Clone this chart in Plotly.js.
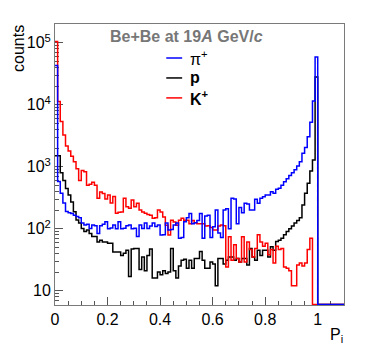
<!DOCTYPE html>
<html>
<head>
<meta charset="utf-8">
<script src="https://cdn.plot.ly/plotly-3.0.1.min.js"></script>
<style>
  html, body { margin: 0; padding: 0; background: #fff; }
  #chart { width: 374px; height: 364px; }
</style>
</head>
<body>
<div id="chart"></div>
<script>
// Be+Be at 19A GeV/c : P_i distributions, 110 bins of 0.01 from 0 to 1.1
const binWidth = 0.01;

const piCounts = [
  43000, 575, 373, 260, 190, 180, 175, 165, 158, 150,
  123, 115, 118, 101, 115, 112, 84, 112, 118, 129,
  100, 103, 115, 100, 129, 100, 102, 112, 115, 100,
  102, 75, 115, 101, 123, 101, 110, 123, 108, 115,
  79, 80, 123, 95, 97, 115, 123, 70, 72, 129,
  150, 175, 120, 125, 135, 175, 70, 160, 165, 72,
  107, 200, 85, 72, 200, 210, 100, 310, 300, 120,
  220, 180, 257, 250, 200, 200, 298, 257, 310, 329,
  350, 350, 395, 372, 431, 450, 500, 570, 640, 720,
  800, 890, 1030, 1200, 1650, 2050, 3050, 5200, 11500, 59000,
  0, 0, 0, 0, 0, 0, 0, 0, 0, 0
];

const pCounts = [
  1500, 1500, 800, 600, 447, 350, 270, 188, 138, 123,
  101, 90, 95, 84, 75, 75, 61, 65, 61, 61,
  58, 58, 42, 42, 42, 37, 40, 45, 17, 47,
  48, 48, 22, 35, 21, 37, 47, 16, 16, 20,
  18, 21, 19, 20, 48, 21, 16, 25, 31, 32,
  23, 31, 23, 33, 33, 43, 31, 23, 23, 29,
  27, 12, 33, 33, 27, 31, 35, 35, 31, 33,
  29, 33, 33, 26, 48, 35, 31, 45, 37, 45,
  45, 35, 51, 45, 62, 65, 70, 80, 90, 100,
  110, 123, 135, 150, 240, 373, 540, 850, 1280, 28000,
  0, 0, 0, 0, 0, 0, 0, 0, 0, 0
];

const kCounts = [
  105000, 11300, 5350, 3250, 2150, 1800, 1480, 1200, 930, 600,
  870, 830, 500, 520, 560, 500, 310, 390, 370, 300,
  350, 260, 330, 178, 185, 186, 310, 225, 213, 290,
  225, 257, 200, 186, 178, 170, 165, 147, 150, 200,
  186, 155, 114, 79, 137, 128, 114, 137, 147, 137,
  137, 120, 135, 125, 120, 120, 120, 110, 112, 105,
  95, 95, 110, 115, 112, 24, 74, 31, 55, 33,
  29, 74, 29, 61, 46, 35, 48, 80, 61, 52,
  58, 38, 46, 28, 52, 46, 48, 24, 23, 21,
  12, 12, 26, 28, 25, 28, 46, 70, 0, 0,
  0, 0, 0, 0, 0, 0, 0, 0, 0, 0
];

const xTickVals = [0, 0.2, 0.4, 0.6, 0.8, 1];
const xTickText = ["0", "0.2", "0.4", "0.6", "0.8", "1"];
const yTickVals = [10, 100, 1000, 10000, 100000];
const yTickText = ["10", "10<sup>2</sup>", "10<sup>3</sup>", "10<sup>4</sup>", "10<sup>5</sup>"];

const seriesNames = ["π<sup>+</sup>", "<b>p</b>", "<b>K<sup>+</sup></b>"];
const seriesColors = ["#0000ff", "#000000", "#ff0000"];

const yRange = [0.769, 5.302];
// empty bins are drawn along the bottom of the frame, like ROOT does on a log axis
const floorValue = Math.pow(10, yRange[0] + 0.008);

function outline(counts) {
  const x = [], y = [];
  counts.forEach((c, i) => {
    x.push(i * binWidth);
    y.push(c > 0 ? c : floorValue);
  });
  x.push(counts.length * binWidth);
  y.push(y[y.length - 1]);
  return { x, y };
}

function histTrace(counts, color) {
  const o = outline(counts);
  return {
    x: o.x,
    y: o.y,
    type: "scatter",
    mode: "lines",
    line: { shape: "hv", width: 1.5, color: color },
    hoverinfo: "skip",
    showlegend: false
  };
}

// draw order: p, K+, then pi+ on top
const traces = [
  histTrace(pCounts, seriesColors[1]),
  histTrace(kCounts, seriesColors[2]),
  histTrace(piCounts, seriesColors[0])
];

const frameColor = "#7a7a7a";
const tickColor = "#555";

// legend rows (paper coords)
const legendRowsY = [0.879, 0.808, 0.737];
const legendLineX = [0.385, 0.44];
const legendTextX = 0.461;

const shapes = legendRowsY.map((yy, i) => ({
  type: "line", xref: "paper", yref: "paper",
  x0: legendLineX[0], x1: legendLineX[1], y0: yy, y1: yy,
  line: { color: seriesColors[i], width: 1.5 }
}));

const annotations = legendRowsY.map((yy, i) => ({
  xref: "paper", yref: "paper", x: legendTextX, y: yy,
  xanchor: "left", yanchor: "middle", showarrow: false,
  text: seriesNames[i],
  font: { size: 16, color: "#000" }
}));

annotations.push({
  xref: "paper", yref: "paper", x: 0.454, y: 0.957,
  xanchor: "center", yanchor: "middle", showarrow: false,
  text: "<b>Be+Be at 19<i>A</i> GeV/<i>c</i></b>",
  font: { size: 16, color: "#777" }
});
annotations.push({
  xref: "paper", yref: "paper", x: -0.126, y: 1.004,
  xanchor: "center", yanchor: "top", showarrow: false,
  textangle: -90, text: "counts",
  font: { size: 16, color: "#000" }
});
annotations.push({
  xref: "paper", yref: "paper", x: 1.005, y: -0.068,
  xanchor: "right", yanchor: "top", showarrow: false,
  text: "P<sub>i</sub>",
  font: { size: 16, color: "#000" }
});

Plotly.newPlot("chart", traces, {
  width: 374,
  height: 364,
  margin: { l: 55, r: 30, t: 24, b: 59 },
  paper_bgcolor: "#fff",
  plot_bgcolor: "#fff",
  font: { family: "Liberation Sans, Arial, sans-serif", size: 16, color: "#000" },
  showlegend: false,
  xaxis: {
    range: [0, 1.1],
    tickmode: "array",
    tickvals: xTickVals,
    ticktext: xTickText,
    ticks: "inside",
    ticklen: 8,
    tickwidth: 1,
    tickcolor: tickColor,
    minor: { ticks: "inside", ticklen: 4, dtick: 0.05, tickcolor: tickColor, showgrid: false },
    showline: true,
    linecolor: frameColor,
    linewidth: 1,
    mirror: true,
    showgrid: false,
    zeroline: false,
    layer: "below traces",
    tickfont: { size: 16 }
  },
  yaxis: {
    type: "log",
    range: yRange,
    tickmode: "array",
    tickvals: yTickVals,
    ticktext: yTickText,
    ticks: "inside",
    ticklen: 8,
    tickwidth: 1,
    tickcolor: tickColor,
    minor: { ticks: "inside", ticklen: 4, dtick: "D1", tickcolor: tickColor, showgrid: false },
    showline: true,
    linecolor: frameColor,
    linewidth: 1,
    mirror: true,
    showgrid: false,
    zeroline: false,
    layer: "below traces",
    tickfont: { size: 16 }
  },
  shapes: shapes,
  annotations: annotations
}, { displayModeBar: false, staticPlot: true });
</script>
</body>
</html>
